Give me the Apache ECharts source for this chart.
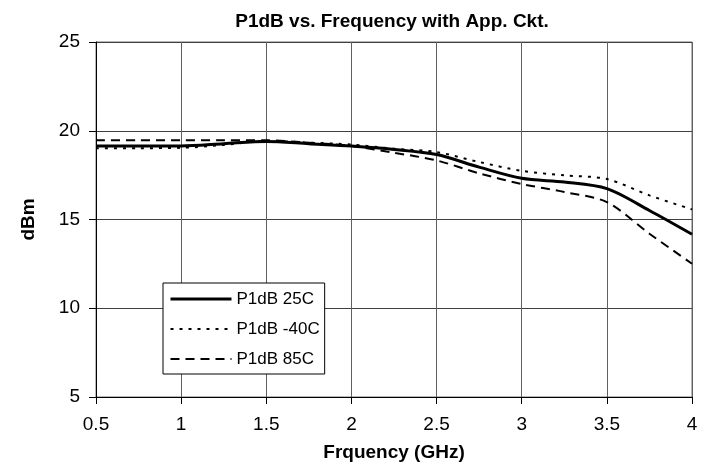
<!DOCTYPE html>
<html>
<head>
<meta charset="utf-8">
<script src="https://cdn.jsdelivr.net/npm/echarts@6/dist/echarts.min.js"></script>
<style>
html,body{margin:0;padding:0;background:#fff;}
#chart{width:712px;height:469px;}
</style>
</head>
<body>
<div id="chart"></div>
<script>
var freq = [0.5, 0.75, 1, 1.25, 1.5, 1.75, 2, 2.25, 2.5, 2.75, 3, 3.25, 3.5, 3.75, 4];
var p1db25 = [19.14, 19.14, 19.14, 19.27, 19.40, 19.27, 19.14, 18.95, 18.66, 17.95, 17.32, 17.11, 16.74, 15.51, 14.17];
var p1dbM40 = [19.02, 19.02, 19.04, 19.20, 19.43, 19.33, 19.22, 18.99, 18.80, 18.24, 17.74, 17.49, 17.28, 16.36, 15.57];
var p1db85 = [19.46, 19.46, 19.46, 19.46, 19.46, 19.33, 19.14, 18.76, 18.33, 17.60, 17.00, 16.55, 15.98, 14.20, 12.51];
var xTicks = [0.5, 1, 1.5, 2, 2.5, 3, 3.5, 4];
var yTicks = [5, 10, 15, 20, 25];
var seriesNames = ['P1dB 25C', 'P1dB -40C', 'P1dB 85C'];

function pairs(ys) { return freq.map(function (f, i) { return [f, ys[i]]; }); }

var lineWidths = [3, 2, 2];
var font = 'Liberation Sans, Arial, sans-serif';
var chart = echarts.init(document.getElementById('chart'), null, {renderer: 'canvas'});
chart.setOption({
  animation: false,
  backgroundColor: '#fff',
  title: {
    text: 'P1dB vs. Frequency with App. Ckt.',
    left: 387, top: 7, textAlign: 'center',
    textStyle: {fontFamily: font, fontSize: 19, fontWeight: 'bold', color: '#000'}
  },
  grid: {left: 96, right: 20, top: 42, bottom: 72, show: true, borderColor: '#707070', borderWidth: 1},
  legend: {
    orient: 'vertical', left: 163, top: 283,
    data: seriesNames.map(function (n, i) { return {name: n, lineStyle: {width: lineWidths[i]}}; }),
    itemWidth: 61, itemHeight: 20, itemGap: 10,
    padding: [6, 5, 5, 6],
    itemStyle: {opacity: 0},
    backgroundColor: '#fff', borderColor: '#000', borderWidth: 1,
    textStyle: {fontFamily: font, fontSize: 17, lineHeight: 20, color: '#000'}
  },
  xAxis: {
    type: 'value', min: 0.5, max: 4, interval: 0.5,
    name: 'Frquency (GHz)', nameLocation: 'middle', nameGap: 46,
    nameTextStyle: {fontFamily: font, fontSize: 19, fontWeight: 'bold', color: '#000'},
    axisLine: {show: true, lineStyle: {color: '#000', width: 1}},
    axisTick: {show: true, length: 7, lineStyle: {color: '#000'}},
    axisLabel: {fontFamily: font, fontSize: 19, color: '#000', margin: 18,
      formatter: function (v) { return xTicks.indexOf(v) >= 0 ? String(v) : ''; }},
    splitLine: {show: true, lineStyle: {color: '#606060', width: 1}}
  },
  yAxis: {
    type: 'value', min: 5, max: 25, interval: 5,
    name: 'dBm', nameLocation: 'middle', nameGap: 58, nameRotate: 90,
    nameTextStyle: {fontFamily: font, fontSize: 19, fontWeight: 'bold', color: '#000'},
    axisLine: {show: true, lineStyle: {color: '#000', width: 1}},
    axisTick: {show: true, length: 7, lineStyle: {color: '#000'}},
    axisLabel: {fontFamily: font, fontSize: 19, color: '#000', margin: 16,
      formatter: function (v) { return yTicks.indexOf(v) >= 0 ? String(v) : ''; }},
    splitLine: {show: true, lineStyle: {color: '#404040', width: 1}}
  },
  series: [
    {name: seriesNames[0], type: 'line', data: pairs(p1db25), smooth: 0.3, symbol: 'none',
      lineStyle: {color: '#000', width: lineWidths[0], type: 'solid'}, itemStyle: {color: '#000'}, z: 3},
    {name: seriesNames[1], type: 'line', data: pairs(p1dbM40), smooth: 0.3, symbol: 'none',
      lineStyle: {color: '#000', width: lineWidths[1], type: [3, 6]}, itemStyle: {color: '#000'}},
    {name: seriesNames[2], type: 'line', data: pairs(p1db85), smooth: 0.3, symbol: 'none',
      lineStyle: {color: '#000', width: lineWidths[2], type: [9, 6]}, itemStyle: {color: '#000'}}
  ]
});
</script>
</body>
</html>
